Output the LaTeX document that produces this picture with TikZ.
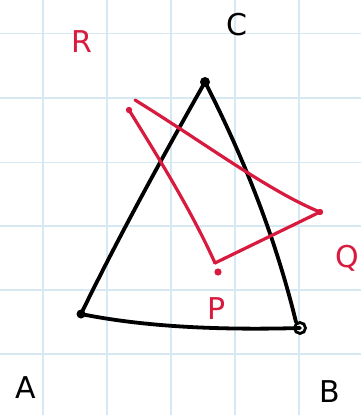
\documentclass[tikz,border=0pt]{standalone}
\usepackage{fontspec}
\setmainfont{DejaVu Sans}
\definecolor{gridblue}{HTML}{D6E9F3}
\definecolor{penred}{HTML}{D91A3F}
\begin{document}
\begin{tikzpicture}[x=1pt,y=-1pt,
  gridline/.style={gridblue,line width=1.6pt},
  blackpen/.style={black,line width=3.8pt,line cap=round,line join=round},
  redpen/.style={penred,line width=3.2pt,line cap=round,line join=round},
  lbl/.style={font=\fontsize{30}{30}\selectfont,inner sep=0pt}]
\useasboundingbox (0,0) rectangle (361,415);
\fill[white] (0,0) rectangle (361,415);
% grid
\foreach \x in {42.7,106.7,170.7,234.7,298.7} \draw[gridline] (\x,0) -- (\x,415);
\foreach \y in {33.5,98,162.3,226,290,354} \draw[gridline] (0,\y) -- (361,\y);
% vertices
\coordinate (A) at (81,314);
\coordinate (B) at (300,328);
\coordinate (C) at (205,82);
\coordinate (R) at (129,110);
\coordinate (Q) at (320,212);
\coordinate (P) at (218,272);
\coordinate (Rs) at (135,100);
\coordinate (Pj) at (215,263);
% black triangle
\draw[blackpen] (C) .. controls (162,158) and (119,236) .. (A);
\draw[blackpen] (C) .. controls (245,160) and (276,240) .. (296,322);
\draw[blackpen] (A) .. controls (150,328) and (230,330) .. (B);
\fill[black] (C) circle (5pt);
\fill[black] (A) circle (4.5pt);
\draw[black,line width=2.8pt] (B) circle (5.5pt);
% red triangle
\draw[redpen] (Rs) .. controls (200,140) and (270,192) .. (Q);
\draw[redpen] (R) .. controls (160,160) and (192,212) .. (Pj);
\draw[redpen] (Q) -- (Pj);
\fill[penred] (R) circle (3.2pt);
\fill[penred] (Q) circle (3.2pt);
\fill[penred] (P) circle (3.6pt);
% labels
\node[lbl,penred] (lR) at (82,42) {R};
\node[lbl] (lC) at (237,25) {C};
\node[lbl,penred] (lQ) at (347,258) {Q};
\node[lbl,penred] (lP) at (217,309) {P};
\node[lbl] (lA) at (26,388) {A};
\node[lbl] (lB) at (330,392) {B};
\end{tikzpicture}
\end{document}
